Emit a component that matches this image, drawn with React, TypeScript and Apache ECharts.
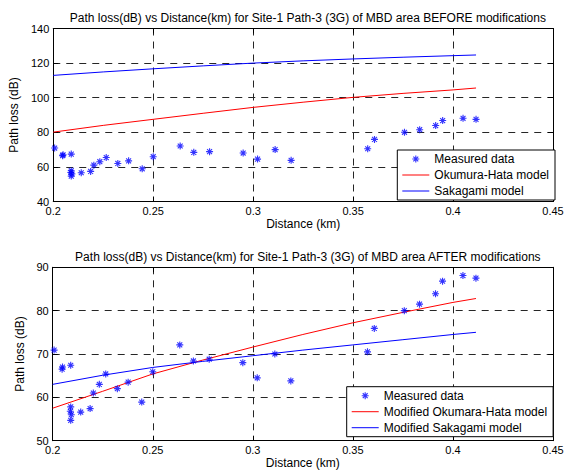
import React, { useEffect, useRef } from "react";
import * as echarts from "echarts";

// Measured data (shared by both panels)
const measuredDist = [
  0.2007, 0.2047, 0.2049, 0.209, 0.209, 0.2088, 0.2093, 0.209, 0.214, 0.2187,
  0.2203, 0.2233, 0.2265, 0.2323, 0.2377, 0.2445, 0.25, 0.2635, 0.2703, 0.2782,
  0.295, 0.3022, 0.311, 0.319, 0.3573, 0.3607, 0.3757, 0.3833, 0.3913, 0.3948,
  0.405, 0.4115,
];
const measuredLoss = [
  70.9, 66.5, 67.0, 67.4, 57.8, 56.8, 56.0, 54.7, 56.6, 57.4,
  61.0, 63.0, 65.4, 62.0, 63.5, 58.9, 65.9, 72.1, 68.4, 68.8,
  68.0, 64.5, 70.0, 63.8, 70.5, 75.9, 80.0, 81.5, 83.9, 86.8,
  88.1, 87.5,
];

// Model curves
const modelDist = [0.2, 0.225, 0.25, 0.275, 0.3, 0.325, 0.35, 0.375, 0.4, 0.4115];
const hataBefore = [80.1, 84.0, 87.5, 91.0, 94.4, 97.4, 100.2, 102.5, 104.5, 105.6];
const sakagamiBefore = [112.9, 114.9, 116.7, 118.4, 120.0, 121.3, 122.4, 123.4, 124.3, 124.7];
const hataAfter = [57.5, 61.4, 65.4, 68.6, 71.6, 74.5, 77.2, 79.6, 81.9, 82.8];
const sakagamiAfter = [63.0, 65.1, 66.9, 68.3, 69.6, 70.9, 72.1, 73.3, 74.5, 75.0];

const titleBefore = "Path loss(dB) vs Distance(km) for Site-1 Path-3 (3G) of MBD area BEFORE modifications";
const titleAfter = "Path loss(dB) vs Distance(km) for Site-1 Path-3 (3G) of MBD area AFTER modifications";
const legendBefore = ["Measured data", "Okumura-Hata model", "Sakagami model"];
const legendAfter = ["Measured data", "Modified Okumara-Hata model", "Modified Sakagami model"];

const FONT = "'Liberation Sans', Arial, Helvetica, sans-serif";

const ASTERISK =
  "path://M-0.8,-5L0.8,-5L0.8,5L-0.8,5Z" +
  "M-5,-0.8L5,-0.8L5,0.8L-5,0.8Z" +
  "M-2.94,-4.06L4.06,2.94L2.94,4.06L-4.06,-2.94Z" +
  "M4.06,-2.94L-2.94,4.06L-4.06,2.94L2.94,-4.06Z" +
  "M-2.2,-2.2L2.2,-2.2L2.2,2.2L-2.2,2.2Z";

const LINE_ICON = "path://M0,0L27,0L27,1L0,1Z";

const pairs = (xs: number[], ys: number[]) => xs.map((x, i) => [x, ys[i]]);

export default function App() {
  const ref = useRef<HTMLDivElement>(null);
  useEffect(() => {
    if (!ref.current) return;
    const chart = echarts.init(ref.current, undefined, { renderer: "svg" });

    const gridL = 52.7;
    const gridR = 20;
    const centerX = (gridL + (573 - gridR)) / 2;

    const grids = [
      { left: gridL, right: gridR, top: 28.5, height: 173 },
      { left: gridL, right: gridR, top: 267.3, height: 173.4 },
    ];

    const dashed = { show: true, lineStyle: { color: "#262626", type: [7, 6], width: 1 } };
    const axisLineBlack = { show: true, lineStyle: { color: "#000", width: 1 } };
    const tickIn = { show: true, inside: true, length: 5, lineStyle: { color: "#000" } };
    const labelStyle = { color: "#000", fontSize: 11, fontFamily: FONT };
    const nameStyle = { color: "#000", fontSize: 12, fontFamily: FONT };

    const xAxes: any[] = [];
    const yAxes: any[] = [];
    const yRanges = [
      { min: 40, max: 140, interval: 20 },
      { min: 50, max: 90, interval: 10 },
    ];
    [0, 1].forEach((g) => {
      xAxes.push({
        type: "value", gridIndex: g, min: 0.2, max: 0.45, interval: 0.05, position: "bottom",
        axisLine: axisLineBlack, axisTick: tickIn, splitLine: dashed,
        axisLabel: { ...labelStyle, margin: 4, showMaxLabel: true, showMinLabel: true },
        name: "Distance (km)", nameLocation: "middle", nameGap: 16, nameTextStyle: nameStyle,
      });
      xAxes.push({
        type: "value", gridIndex: g, min: 0.2, max: 0.45, interval: 0.05, position: "top",
        axisLine: axisLineBlack, axisTick: tickIn, splitLine: { show: false }, axisLabel: { show: false },
      });
      yAxes.push({
        type: "value", gridIndex: g, ...yRanges[g], position: "left",
        axisLine: axisLineBlack, axisTick: tickIn, splitLine: dashed,
        axisLabel: { ...labelStyle, margin: 4 },
        name: "Path loss (dB)", nameLocation: "middle", nameGap: 26, nameTextStyle: nameStyle,
      });
      yAxes.push({
        type: "value", gridIndex: g, ...yRanges[g], position: "right",
        axisLine: axisLineBlack, axisTick: tickIn, splitLine: { show: false }, axisLabel: { show: false },
      });
    });

    const scatter = (g: number, name: string) => ({
      type: "scatter", name, xAxisIndex: g * 2, yAxisIndex: g * 2,
      data: pairs(measuredDist, measuredLoss),
      symbol: ASTERISK, symbolSize: 7,
      itemStyle: { color: "#0000ff" },
      z: 5,
    });
    const line = (g: number, name: string, ys: number[], color: string) => ({
      type: "line", name, xAxisIndex: g * 2, yAxisIndex: g * 2,
      data: pairs(modelDist, ys),
      symbol: "none", showSymbol: false, smooth: false,
      lineStyle: { color, width: 1 }, itemStyle: { color },
      z: 4,
    });

    const legendCommon = {
      orient: "vertical",
      backgroundColor: "#fff",
      borderColor: "#000",
      borderWidth: 1,
      borderRadius: 0,
      itemWidth: 27,
      itemHeight: 7,
      itemGap: 0,
      itemTextGap: 3,
      textStyle: { color: "#000", fontSize: 12, fontFamily: FONT, lineHeight: 16 },
      selectedMode: false,
    };
    const legendData = (names: string[]) => [
      { name: names[0] },
      { name: names[1], icon: LINE_ICON },
      { name: names[2], icon: LINE_ICON },
    ];

    chart.setOption({
      animation: false,
      backgroundColor: "#fff",
      title: [
        { text: titleBefore, left: centerX, top: 7, textAlign: "center",
          textStyle: { color: "#000", fontSize: 12, fontWeight: "normal", fontFamily: FONT } },
        { text: titleAfter, left: centerX, top: 246, textAlign: "center",
          textStyle: { color: "#000", fontSize: 12, fontWeight: "normal", fontFamily: FONT } },
      ],
      legend: [
        { ...legendCommon, data: legendData(legendBefore), left: 397.3, top: 150, padding: [1, 6, 1, 5] },
        { ...legendCommon, data: legendData(legendAfter), left: 346.7, top: 386.7, padding: [1, 6, 1, 5] },
      ],
      grid: grids,
      xAxis: xAxes,
      yAxis: yAxes,
      series: [
        scatter(0, legendBefore[0]),
        line(0, legendBefore[1], hataBefore, "#ff0000"),
        line(0, legendBefore[2], sakagamiBefore, "#0000ff"),
        scatter(1, legendAfter[0]),
        line(1, legendAfter[1], hataAfter, "#ff0000"),
        line(1, legendAfter[2], sakagamiAfter, "#0000ff"),
      ],
    });
    return () => chart.dispose();
  }, []);

  return (
    <div
      ref={ref}
      style={{ position: "fixed", left: 0, top: 0, width: 573, height: 472, background: "#fff" }}
    />
  );
}
